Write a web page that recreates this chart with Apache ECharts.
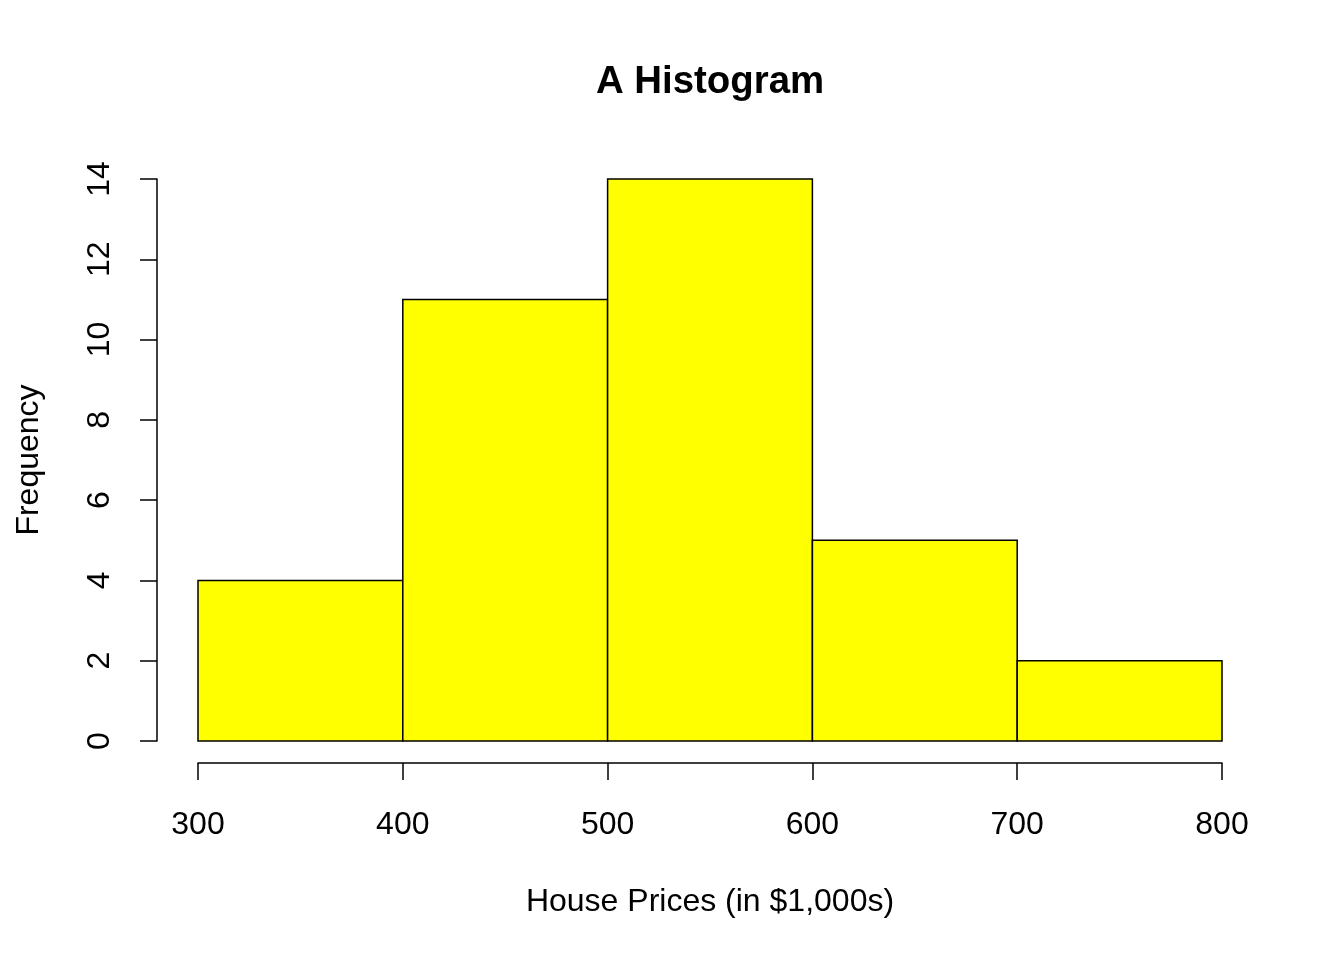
<!DOCTYPE html>
<html>
<head>
<meta charset="utf-8">
<script src="https://cdn.jsdelivr.net/npm/echarts@6/dist/echarts.min.js"></script>
<style>html,body{margin:0;padding:0;background:#fff}#c{width:1344px;height:960px}</style>
</head>
<body>
<div id="c"></div>
<script>
const binStarts = [300, 400, 500, 600, 700];
const binEnds = [400, 500, 600, 700, 800];
const frequencies = [4, 11, 14, 5, 2];
const xTicks = [300, 400, 500, 600, 700, 800];
const yTicks = [0, 2, 4, 6, 8, 10, 12, 14];
const titleText = 'A Histogram';
const xName = 'House Prices (in $1,000s)';
const yName = 'Frequency';

const FONT = '"Liberation Sans", Arial, sans-serif';
const data = binStarts.map((s, i) => [s, binEnds[i], frequencies[i]]);

const chart = echarts.init(document.getElementById('c'));
chart.setOption({
  animation: false,
  backgroundColor: '#ffffff',
  title: {
    text: titleText,
    left: 705,
    top: 58,
    textAlign: 'center',
    textStyle: { fontFamily: FONT, fontSize: 38.4, fontWeight: 'bold', color: '#000' }
  },
  grid: { left: 198, right: 122, top: 179, bottom: 219, containLabel: false },
  xAxis: {
    type: 'value',
    min: xTicks[0],
    max: xTicks[xTicks.length - 1],
    interval: 100,
    offset: 22,
    name: xName,
    nameLocation: 'middle',
    nameGap: 123,
    nameTextStyle: { fontFamily: FONT, fontSize: 32, color: '#000' },
    axisLine: { show: true, onZero: false, lineStyle: { color: '#000', width: 1.5 } },
    axisTick: { show: true, length: 17, lineStyle: { color: '#000', width: 1.5 } },
    axisLabel: { fontFamily: FONT, fontSize: 32, color: '#000', margin: 46, showMinLabel: true, showMaxLabel: true },
    splitLine: { show: false }
  },
  yAxis: {
    type: 'value',
    min: yTicks[0],
    max: yTicks[yTicks.length - 1],
    interval: 2,
    offset: 41,
    name: yName,
    nameLocation: 'middle',
    nameGap: 112,
    nameTextStyle: { fontFamily: FONT, fontSize: 32, color: '#000' },
    axisLine: { show: true, onZero: false, lineStyle: { color: '#000', width: 1.5 } },
    axisTick: { show: true, length: 17, lineStyle: { color: '#000', width: 1.5 } },
    axisLabel: { fontFamily: FONT, fontSize: 32, color: '#000', margin: 41, rotate: 90, showMinLabel: true, showMaxLabel: true },
    splitLine: { show: false }
  },
  series: [{
    type: 'custom',
    data: data,
    encode: { x: [0, 1], y: 2 },
    renderItem: function (params, api) {
      const p0 = api.coord([api.value(0), api.value(2)]);
      const p1 = api.coord([api.value(1), 0]);
      return {
        type: 'rect',
        shape: { x: p0[0], y: p0[1], width: p1[0] - p0[0], height: p1[1] - p0[1] },
        style: { fill: '#ffff00', stroke: '#000000', lineWidth: 1.5 }
      };
    }
  }]
});
</script>
</body>
</html>
